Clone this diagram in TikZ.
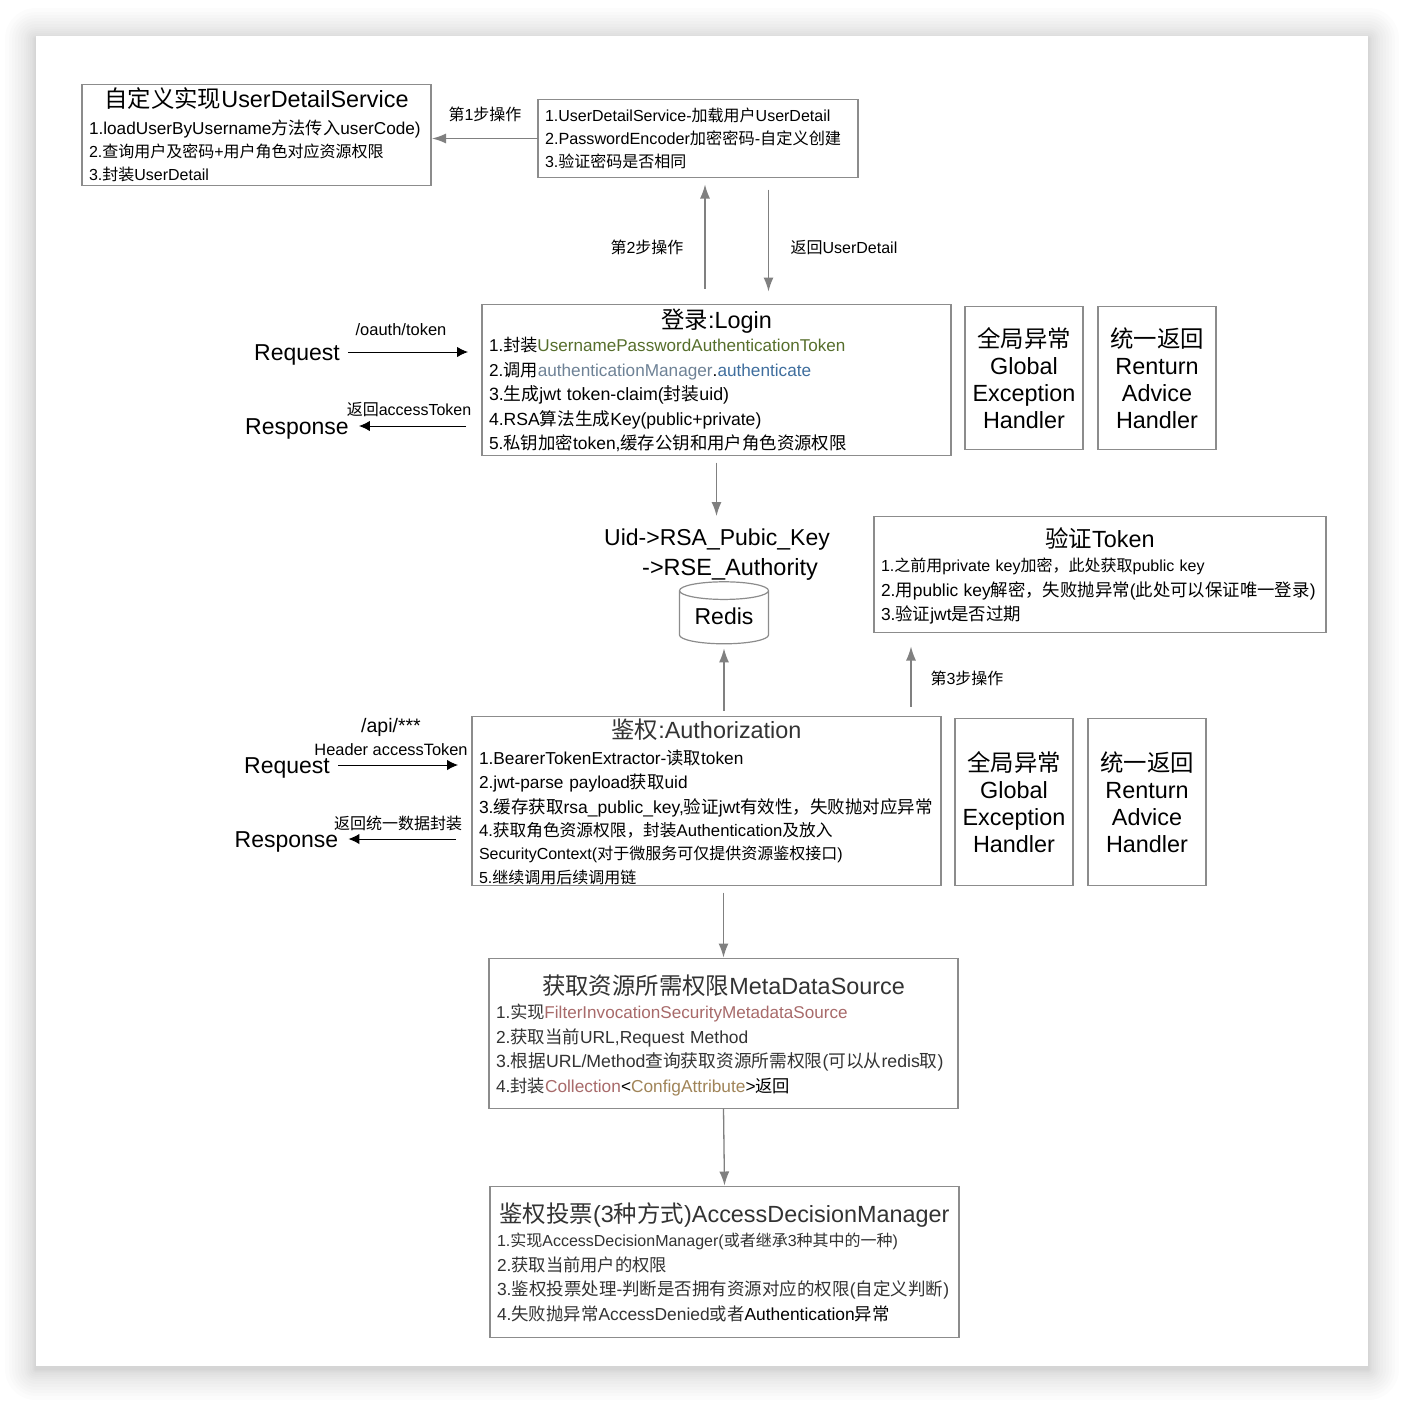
\documentclass[tikz,border=0pt]{standalone}
\usepackage{fontspec}
\setmainfont{Liberation Sans}
\newfontfamily\cjkfont{Noto Sans CJK SC}
\usetikzlibrary{shapes.geometric}
\usetikzlibrary{arrows.meta}
\newcommand{\zh}[1]{{\cjkfont #1}}
\newcommand{\boxtitle}[2][18]{\makebox[\linewidth][c]{\rule{0pt}{#1pt}\fontsize{23.4}{27}\selectfont #2}}
\newcommand{\bodyfont}[2]{\fontsize{#1}{#2}\selectfont}
\definecolor{linegray}{HTML}{8C8C8C}
\definecolor{flowgray}{HTML}{808080}
\definecolor{softblack}{HTML}{333333}
\definecolor{tokengreen}{HTML}{566E2C}
\definecolor{managerblue}{HTML}{6E8296}
\definecolor{methodblue}{HTML}{3F6E9E}
\definecolor{classrose}{HTML}{A86A6A}
\definecolor{classtan}{HTML}{A08458}
\tikzset{textbox/.style={draw=linegray, line width=1.2pt, anchor=north west, outer sep=0pt, yshift=-.5pt, inner xsep=7pt, inner ysep=0pt, align=left, font=\fontsize{16}{24.5}\selectfont}}
\tikzset{sidebox/.style={draw=linegray, line width=1.2pt, anchor=north west, outer sep=0pt, yshift=-.5pt, inner sep=0pt, align=center, minimum width=118pt, font=\fontsize{23.4}{27}\selectfont}}
\tikzset{caption/.style={inner sep=0pt, align=center, font=\fontsize{16}{24}\selectfont}}
\tikzset{bigcaption/.style={inner sep=0pt, align=left, font=\fontsize{23}{30}\selectfont}}
\tikzset{callword/.style={inner sep=0pt, text height=22pt, text depth=5pt, font=\fontsize{23}{30}\selectfont}}
\tikzset{flow/.style={draw=flowgray, line width=1.3pt, -{Latex[length=14pt,width=10pt]}}}
\tikzset{call/.style={draw=black, line width=1pt, -{Latex[length=11pt,width=10.5pt]}}}
\begin{document}
\begin{tikzpicture}[x=1pt,y=-1pt]
  \useasboundingbox (0,0) rectangle (1404,1402);
  \fill[white] (0,0) rectangle (1404,1402);
  \foreach \grow in {31,27,24,21,18,15,12,10,8,6,4,3,2,1}
    \fill[black, opacity=0.012, rounded corners=\grow pt] (36-\grow,39-\grow) rectangle (1368+\grow,1369+\grow);
  \fill[white] (36,36) rectangle (1368,1366);

  \coordinate (stepa) at (705,0);
  \coordinate (stepb) at (768.5,0);
  \coordinate (stepc) at (911,0);

  \node[textbox, minimum width=349pt, minimum height=101pt, text width=335pt, font=\fontsize{16}{23}\selectfont] (userimpl) at (82,84) {\boxtitle{\zh{自定义实现}UserDetailService}\\[3.5pt]
    \bodyfont{17.2}{23}1.loadUserByUsername\zh{方法传入}userCode)\\
    \bodyfont{16}{23}2.\zh{查询用户及密码}+\zh{用户角色对应资源权限}\\
    3.\zh{封装}UserDetail};
  \node[textbox, minimum width=320pt, minimum height=78pt, text width=306pt, font=\fontsize{16}{23}\selectfont] (passwd) at (538,99) {1.UserDetailService-\zh{加载用户}UserDetail\\
    \bodyfont{16.2}{23}2.PasswordEncoder\zh{加密密码}-\zh{自定义创建}\\
    \bodyfont{16}{23}3.\zh{验证密码是否相同}};
  \node[textbox, minimum width=469pt, minimum height=151pt, text width=455pt, font=\fontsize{17.1}{24.5}\selectfont] (login) at (482,304) {\boxtitle[20]{\zh{登录}:Login}\\[-1pt]
    1.\zh{封装}\textcolor{tokengreen}{UsernamePasswordAuthenticationToken}\\
    \bodyfont{17.2}{24.5}2.\zh{调用}\textcolor{managerblue}{authenticationManager}.\textcolor{methodblue}{authenticate}\\
    \bodyfont{17.8}{24.5}3.\zh{生成}jwt token-claim(\zh{封装}uid)\\
    \bodyfont{17.6}{24.5}4.RSA\zh{算法生成}Key(public+private)\\
    \bodyfont{17.4}{24.5}5.\zh{私钥加密}token,\zh{缓存公钥和用户角色资源权限}};
  \node[sidebox, minimum height=143pt] (globala) at (965,306) {\zh{全局异常}\\Global\\Exception\\Handler};
  \node[sidebox, minimum height=143pt] (advicea) at (1098,306) {\zh{统一返回}\\Renturn\\Advice\\Handler};
  \node[textbox, minimum width=452pt, minimum height=116pt, text width=438pt] (verify) at (874,516) {\boxtitle[23]{\zh{验证}Token}\\
    1.\zh{之前用}private key\zh{加密，此处获取}public key\\
    \bodyfont{17.4}{24.5}2.\zh{用}public key\zh{解密，失败抛异常}(\zh{此处可以保证唯一登录})\\
    3.\zh{验证}jwt\zh{是否过期}};
  \node[textbox, minimum width=469pt, minimum height=169pt, text width=455pt, font=\fontsize{17.3}{23.8}\selectfont] (auth) at (472,716) {\boxtitle[21]{\textcolor{softblack}{\zh{鉴权}:Authorization}}\\[2.5pt]
    1.BearerTokenExtractor-\zh{读取}token\\
    2.jwt-parse payload\zh{获取}uid\\[1pt]
    \bodyfont{17.5}{23.8}3.\zh{缓存获取}rsa\_public\_key,\zh{验证}jwt\zh{有效性，失败抛对应异常}\\
    \bodyfont{16.7}{23.8}4.\zh{获取角色资源权限，封装}Authentication\zh{及放入}\\[-1pt]
    \bodyfont{16}{23.8}SecurityContext(\zh{对于微服务可仅提供资源鉴权接口})\\
    5.\zh{继续调用后续调用链}};
  \node[sidebox, minimum height=167pt] (globalb) at (955,718) {\zh{全局异常}\\Global\\Exception\\Handler};
  \node[sidebox, minimum height=167pt] (adviceb) at (1088,718) {\zh{统一返回}\\Renturn\\Advice\\Handler};
  \node[textbox, minimum width=469pt, minimum height=150pt, text width=455pt, text=softblack, font=\fontsize{17.1}{24.5}\selectfont] (meta) at (489,958) {\boxtitle[23]{\zh{获取资源所需权限}MetaDataSource}\\
    1.\zh{实现}\textcolor{classrose}{FilterInvocationSecurityMetadataSource}\\
    \bodyfont{17.4}{24.5}2.\zh{获取当前}URL,Request Method\\
    \bodyfont{17.7}{24.5}3.\zh{根据}URL/Method\zh{查询获取资源所需权限}(\zh{可以从}redis\zh{取})\\
    \bodyfont{17.3}{24.5}4.\zh{封装}\textcolor{classrose}{Collection}\textcolor{black}{<}\textcolor{classtan}{ConfigAttribute}\textcolor{black}{>\zh{返回}}};
  \node[textbox, minimum width=469pt, minimum height=151pt, text width=455pt, text=softblack] (vote) at (490,1186) {\boxtitle{\zh{鉴权投票}(3\zh{种方式})AccessDecisionManager}\\
    1.\zh{实现}AccessDecisionManager(\zh{或者继承}3\zh{种其中的一种})\\
    \bodyfont{17.3}{24.5}2.\zh{获取当前用户的权限}\\
    \bodyfont{17.5}{24.5}3.\zh{鉴权投票处理}-\zh{判断是否拥有资源对应的权限}(\zh{自定义判断})\\
    \bodyfont{17.4}{24.5}4.\zh{失败抛异常}AccessDenied\zh{或者}\textcolor{black}{Authentication\zh{异常}}};

  \node[callword] (reqa) at (297,352) {Request};
  \node[callword] (respa) at (297,426) {Response};
  \node[callword] (reqb) at (287,765) {Request};
  \node[callword] (respb) at (286.5,839) {Response};
  \node[bigcaption] (rsakey) at (717,555) {Uid->RSA\_Pubic\_Key\\\hspace*{38pt}{\fontsize{23.5}{30}\selectfont ->RSE\_Authority}};
  \node[draw=linegray, line width=1.2pt, cylinder, shape border rotate=90, aspect=0.3, minimum width=89pt, minimum height=62pt, inner sep=0pt, text height=17pt, text depth=4pt, font=\fontsize{23}{27}\selectfont] (redis) at (724,617.5) {Redis};

  \node[caption] (stepone) at (485,114) {\zh{第}1\zh{步操作}};
  \node[caption] (steptwo) at (647,247.5) {\zh{第}2\zh{步操作}};
  \node[caption] (stepback) at (844,247.5) {\zh{返回}UserDetail};
  \node[caption] (stepthree) at (967,678) {\zh{第}3\zh{步操作}};
  \node[caption, font=\fontsize{16.5}{24}\selectfont] (oauth) at (401,330) {/oauth/token};
  \node[caption] (backtoken) at (409,410) {\zh{返回}accessToken};
  \node[caption, font=\fontsize{19.5}{24}\selectfont] (apipath) at (391,727.5) {/api/***};
  \node[caption, font=\fontsize{16.4}{24}\selectfont] (header) at (391,750) {Header accessToken};
  \node[caption] (backdata) at (398,823) {\zh{返回统一数据封装}};

  \draw[flow, shorten >=1pt] (passwd.west) -- (passwd.west -| userimpl.east);
  \draw[flow, shorten <=16pt, shorten >=7pt] (login.north -| stepa) -- (passwd.south -| stepa);
  \draw[flow, shorten <=12pt, shorten >=13pt] (passwd.south -| stepb) -- (login.north -| stepb);
  \draw[flow, shorten <=7pt, shorten >=13pt] (login.south) -- (rsakey.north -| login.south);
  \draw[flow, shorten <=6pt, shorten >=4pt] (auth.north -| redis.south) -- (redis.south);
  \draw[flow, shorten <=10pt, shorten >=14pt] (auth.north -| stepc) -- (verify.south -| stepc);
  \draw[flow, shorten <=7pt, shorten >=1pt] (meta.north |- auth.south) -- (meta.north);
  \draw[flow, shorten >=1pt] (meta.south) -- (vote.north);
  \draw[call, shorten <=8pt, shorten >=14pt] (reqa.east) -- (login.west |- reqa.east);
  \draw[call, shorten <=16pt, shorten >=10pt] (login.west |- respa.east) -- (respa.east);
  \draw[call, shorten <=8pt, shorten >=14pt] (reqb.east) -- (auth.west |- reqb.east);
  \draw[call, shorten <=16pt, shorten >=10pt] (auth.west |- respb.east) -- (respb.east);
\end{tikzpicture}
\end{document}
